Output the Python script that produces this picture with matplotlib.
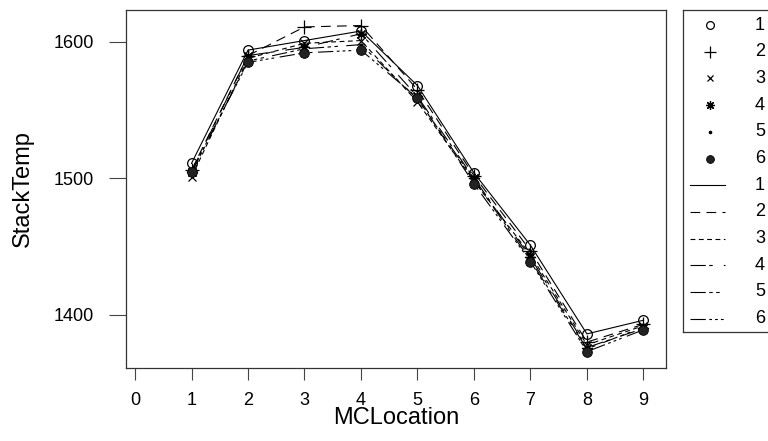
import matplotlib
matplotlib.use("Agg")
import matplotlib.pyplot as plt

plt.rcParams['font.family'] = ['Liberation Sans', 'DejaVu Sans']
plt.rcParams['lines.scale_dashes'] = False

# MCLocation on x, StackTemp for six runs
mc_location = [1, 2, 3, 4, 5, 6, 7, 8, 9]
run_labels = ['1', '2', '3', '4', '5', '6']
stack_temp = {
    '1': [1511, 1594, 1601, 1608, 1568, 1504, 1451, 1386, 1396],
    '2': [1506, 1590, 1611, 1612, 1565, 1502, 1447, 1380, 1393],
    '3': [1501, 1588, 1599, 1601, 1556, 1498, 1444, 1378, 1392],
    '4': [1505, 1590, 1596, 1606, 1560, 1500, 1442, 1376, 1390],
    '5': [1504, 1586, 1595, 1598, 1558, 1499, 1440, 1375, 1391],
    '6': [1505, 1585, 1592, 1594, 1559, 1496, 1439, 1373, 1389],
}

# marker style + line style per run (S-PLUS look)
markers = {
    '1': dict(marker='o', mfc='none', ms=7, mew=0.9),
    '2': dict(marker='+', ms=10, mew=0.9),
    '3': dict(marker='x', ms=6, mew=0.9),
    '4': dict(marker=(8, 2, 0), ms=8, mew=0.9),
    '5': dict(marker='.', ms=4),
    '6': dict(marker='o', mfc='#222222', ms=7, mew=0.6),
}
dashes = {
    '1': '-',
    '2': (0, (7, 4.5)),
    '3': (0, (3.5, 2.5)),
    '4': (0, (11, 2.5, 2.5, 8)),
    '5': (0, (11, 2.5, 2.5, 2.5, 2.5, 6)),
    '6': (0, (11, 2.5, 2, 2.2, 2, 2.2, 2, 4)),
}

fig = plt.figure(figsize=(7.68, 4.41), dpi=100)
ax = fig.add_axes([126 / 768, 73 / 441, 540 / 768, 358 / 441])

for r in run_labels:
    ax.plot(mc_location, stack_temp[r], color='black', lw=0.8, ls=dashes[r])
    ax.plot(mc_location, stack_temp[r], color='black', ls='none', **markers[r])

ax.set_xlim(-0.16, 9.4)
ax.set_ylim(1361, 1623.4)
ax.set_xticks(range(0, 10))
ax.set_yticks([1400, 1500, 1600])
ax.tick_params(axis='x', length=8.6, width=0.8, pad=8.6, labelsize=13, color='#444444')
ax.tick_params(axis='y', length=12.5, width=0.8, pad=10.5, labelsize=13, color='#444444')
for s in ax.spines.values():
    s.set_linewidth(0.9)
    s.set_color('#333333')
ax.set_xlabel('MCLocation', fontsize=17, labelpad=-1)
ax.set_ylabel('StackTemp', fontsize=17, labelpad=14)

# legend box, drawn in pixel units, runs off the right edge
lg = fig.add_axes([683 / 768, 109 / 441, 153.6 / 768, 322 / 441])
lg.set_xlim(0, 153.6)
lg.set_ylim(322, 0)
lg.set_xticks([])
lg.set_yticks([])
for s in lg.spines.values():
    s.set_linewidth(0.9)
    s.set_color('#333333')

row = 0
for r in run_labels:
    y = 15 + 26.7 * row
    m = dict(markers[r])
    m['ms'] = m['ms'] * 0.8
    lg.plot([27], [y], color='black', ls='none', clip_on=False, **m)
    lg.text(72, y, r, fontsize=13, va='center', ha='left')
    row += 1
for r in run_labels:
    y = 15 + 26.7 * row
    lg.plot([7, 42], [y, y], color='black', lw=0.8, ls=dashes[r])
    lg.text(72, y, r, fontsize=13, va='center', ha='left')
    row += 1

fig.savefig('out.png', dpi=100)
